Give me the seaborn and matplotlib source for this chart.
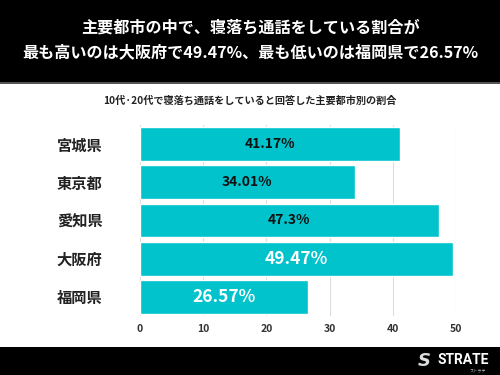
import matplotlib
matplotlib.use("Agg")
import matplotlib.pyplot as plt
import seaborn as sns
import pandas as pd
from matplotlib.patches import Rectangle

cities = ["宮城県", "東京都", "愛知県", "大阪府", "福岡県"]
values = [41.17, 34.01, 47.3, 49.47, 26.57]
labels = ["41.17%", "34.01%", "47.3%", "49.47%", "26.57%"]
label_colors = ["#111111", "#111111", "#111111", "white", "white"]
label_sizes = [10, 10, 10, 12.5, 12.5]
ticks = [0, 10, 20, 30, 40, 50]
title = "主要都市の中で、寝落ち通話をしている割合が\n最も高いのは大阪府で49.47%、最も低いのは福岡県で26.57%"
subtitle = "10代·20代で寝落ち通話をしていると回答した主要都市別の割合"

sns.set_theme(style="white")
plt.rcParams['font.family'] = ['Noto Sans CJK JP', 'DejaVu Sans']

df = pd.DataFrame({"city": cities, "value": values})

fig = plt.figure(figsize=(5, 3.75), dpi=100)
fig.patch.set_facecolor("white")

# header and footer bands
fig.patches.append(Rectangle((0, 1 - 82 / 375), 1, 82 / 375, transform=fig.transFigure,
                             facecolor="black", edgecolor="none", zorder=0))
fig.patches.append(Rectangle((0, 1 - 84 / 375), 1, 2 / 375, transform=fig.transFigure,
                             facecolor="#555555", edgecolor="none", zorder=0))
fig.patches.append(Rectangle((0, 0), 1, 28 / 375, transform=fig.transFigure,
                             facecolor="black", edgecolor="none", zorder=0))

fig.text(0.5, 1 - 40 / 375, title, ha="center", va="center", color="white",
         fontsize=11.6, fontweight="bold", linespacing=1.7)
fig.text(0.5, 1 - 101 / 375, subtitle, ha="center", va="center", color="#222222",
         fontsize=7.3, fontweight="bold")

ax = fig.add_axes([140 / 500, 1 - 316 / 375, 316 / 500, 191 / 375])
sns.barplot(data=df, x="value", y="city", ax=ax, color="#00C3CC", width=0.88,
            saturation=1, orient="h", zorder=3)
ax.set_xlim(0, 50)
ax.set_xticks(ticks)
ax.set_xticklabels([str(t) for t in ticks], fontsize=7.5, fontweight="bold", color="#333333")
ax.set_yticks(range(len(cities)))
ax.set_yticklabels(cities, fontsize=11, fontweight="bold", color="#222222")
ax.tick_params(axis="y", length=0, pad=27)
ax.tick_params(axis="x", length=0, pad=6)
ax.set_xlabel("")
ax.set_ylabel("")
for s in ax.spines.values():
    s.set_visible(False)
ax.grid(axis="x", color="#dddddd", linewidth=0.8, zorder=0)
ax.grid(axis="y", visible=False)

for i, (v, lab) in enumerate(zip(values, labels)):
    ax.text(v / 2, i, lab, ha="center", va="center", color=label_colors[i],
            fontsize=label_sizes[i], fontweight="bold", zorder=5)

# footer logo
fig.text(0.848, 14 / 375, "S", ha="center", va="center", color="#dddddd",
         fontsize=13, fontweight="bold", style="italic", family=["DejaVu Sans"])
fig.text(0.874, 15 / 375, "STRATE", ha="left", va="center", color="white",
         fontsize=10, fontweight="bold", family=["Roboto", "DejaVu Sans"])
fig.text(0.955, 5 / 375, "ストラテ", ha="center", va="center", color="#bbbbbb",
         fontsize=3)

fig.savefig("out.png", dpi=100, facecolor="white")
